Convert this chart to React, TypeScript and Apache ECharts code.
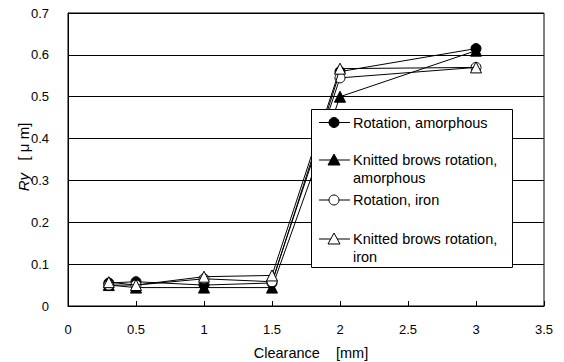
import React, { useEffect, useRef } from "react";
import * as echarts from "echarts";

// Clearance values [mm]
const clearance = [0.3, 0.5, 1, 1.5, 2, 3];

// Ry [μm] for each condition
const rotationAmorphous = [0.055, 0.058, 0.05, 0.055, 0.56, 0.615];
const knittedAmorphous = [0.05, 0.044, 0.044, 0.044, 0.5, 0.61];
const rotationIron = [0.05, 0.05, 0.065, 0.058, 0.545, 0.57];
const knittedIron = [0.057, 0.05, 0.07, 0.073, 0.567, 0.57];

const seriesNames = [
  "Rotation, amorphous",
  "Knitted brows rotation,\namorphous",
  "Rotation, iron",
  "Knitted brows rotation,\niron",
];

const FONT = "'Liberation Sans', Arial, sans-serif";

const pairs = (ys: number[]) => clearance.map((x, i) => [x, ys[i]]);

export default function App() {
  const ref = useRef<HTMLDivElement>(null);

  useEffect(() => {
    if (!ref.current) return;
    const chart = echarts.init(ref.current, null, { renderer: "svg" });

    const markers = [
      { symbol: "circle", size: 10, fill: "#000" },
      { symbol: "triangle", size: 11, fill: "#000" },
      { symbol: "circle", size: 10, fill: "#fff" },
      { symbol: "triangle", size: 11, fill: "#fff" },
    ];
    const values = [rotationAmorphous, knittedAmorphous, rotationIron, knittedIron];

    // Legend box drawn by hand (entries have uneven spacing)
    const legendX = 311;
    const legendY = 109;
    const rowY = [122.5, 160, 200, 239];
    const legendGraphics: any[] = [
      {
        type: "rect",
        shape: { x: legendX + 0.5, y: legendY + 0.5, width: 201, height: 158 },
        style: { fill: "#fff", stroke: "#000", lineWidth: 1 },
        z: 100,
      },
    ];
    rowY.forEach((y, i) => {
      const cx = 334;
      legendGraphics.push({
        type: "line",
        shape: { x1: 319, y1: y, x2: 350, y2: y },
        style: { stroke: "#000", lineWidth: 1 },
        z: 101,
      });
      if (markers[i].symbol === "circle") {
        legendGraphics.push({
          type: "circle",
          shape: { cx, cy: y, r: 5 },
          style: { fill: markers[i].fill, stroke: "#000", lineWidth: 1 },
          z: 102,
        });
      } else {
        legendGraphics.push({
          type: "polygon",
          shape: {
            points: [
              [cx, y - 6],
              [cx + 6, y + 5],
              [cx - 6, y + 5],
            ],
          },
          style: { fill: markers[i].fill, stroke: "#000", lineWidth: 1 },
          z: 102,
        });
      }
      legendGraphics.push({
        type: "text",
        x: 353,
        y: y - 9,
        style: {
          text: seriesNames[i],
          fill: "#000",
          font: `14.5px ${FONT}`,
          lineHeight: 18,
          verticalAlign: "top",
          align: "left",
        },
        z: 102,
      });
    });

    chart.setOption({
      animation: false,
      backgroundColor: "#fff",
      grid: {
        left: 68,
        right: 20,
        top: 13,
        bottom: 56,
        show: true,
        borderColor: "#000",
        borderWidth: 1,
        backgroundColor: "transparent",
      },
      xAxis: {
        type: "value",
        min: 0,
        max: 3.5,
        interval: 0.5,
        axisLine: { show: true, onZero: false, lineStyle: { color: "#000", width: 1 } },
        axisTick: { show: true, inside: true, length: 5, lineStyle: { color: "#000" } },
        axisLabel: { color: "#000", fontSize: 13, fontFamily: FONT, margin: 17 },
        splitLine: { show: false },
      },
      yAxis: {
        type: "value",
        min: 0,
        max: 0.7,
        interval: 0.1,
        axisLine: { show: true, onZero: false, lineStyle: { color: "#000", width: 1 } },
        axisTick: { show: true, inside: true, length: 4, lineStyle: { color: "#000" } },
        axisLabel: {
          color: "#000",
          fontSize: 13,
          fontFamily: FONT,
          margin: 19,
          formatter: (v: number) => String(Math.round(v * 10) / 10),
        },
        splitLine: { show: true, lineStyle: { color: "#000", width: 1 } },
      },
      graphic: [
        {
          type: "text",
          x: 311,
          y: 353,
          style: {
            text: "Clearance    [mm]",
            align: "center",
            verticalAlign: "middle",
            fill: "#000",
            font: `14.5px ${FONT}`,
          },
        },
        {
          type: "text",
          x: 23,
          y: 157,
          rotation: Math.PI / 2,
          style: {
            text: "{i|Ry}   [ μ m]",
            align: "center",
            verticalAlign: "middle",
            fill: "#000",
            font: `15px ${FONT}`,
            rich: {
              i: { fontStyle: "italic", fontSize: 15, fontFamily: FONT, fill: "#000" },
            },
          },
        },
        ...legendGraphics,
      ],
      series: values.map((ys, i) => ({
        name: seriesNames[i],
        type: "line",
        data: pairs(ys),
        symbol: markers[i].symbol,
        symbolSize: markers[i].size,
        showSymbol: true,
        lineStyle: { color: "#000", width: 1 },
        itemStyle: { color: markers[i].fill, borderColor: "#000", borderWidth: 1 },
        emphasis: { disabled: true },
        z: 2 + i,
      })),
    });

    return () => chart.dispose();
  }, []);

  return (
    <div
      ref={ref}
      style={{ width: 564, height: 362, position: "absolute", left: 0, top: 0 }}
    />
  );
}
